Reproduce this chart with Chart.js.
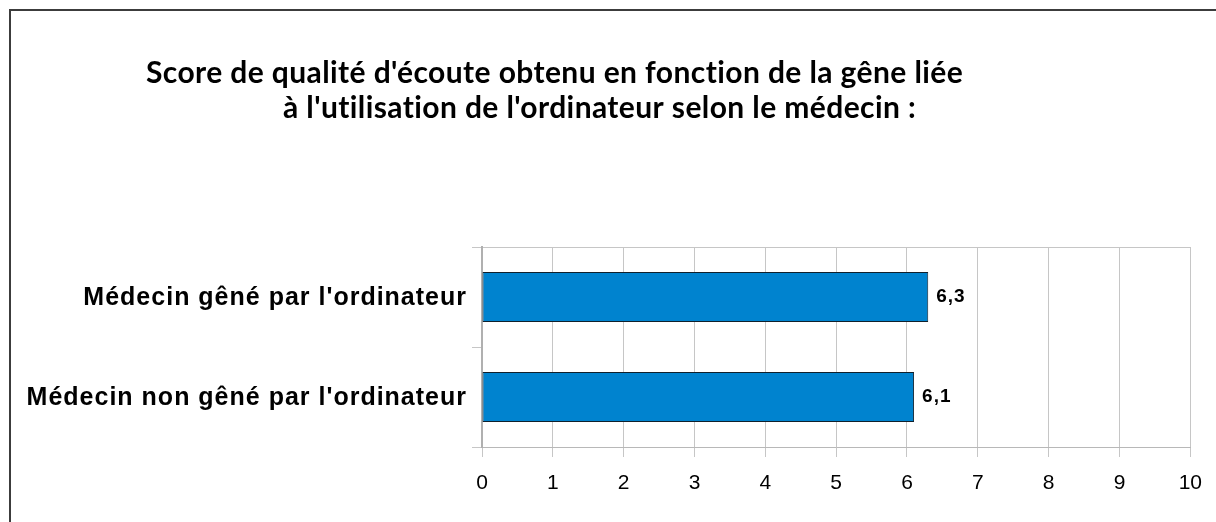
<!DOCTYPE html>
<html>
<head>
<meta charset="utf-8">
<script src="https://cdn.jsdelivr.net/npm/chart.js@4/dist/chart.umd.min.js"></script>
<style>
  html, body { margin: 0; padding: 0; background: #fff; }
  canvas { display: block; }
</style>
</head>
<body>
<canvas id="chart" width="1216" height="522"></canvas>
<script>
const categories = [
  "Médecin gêné par l'ordinateur",
  "Médecin non gêné par l'ordinateur",
];
const scores = [6.3, 6.1];
const titleLines = [
  "Score de qualité d'écoute obtenu en fonction de la gêne liée",
  "à l'utilisation de l'ordinateur selon le médecin :",
];
const xTicks = [0, 1, 2, 3, 4, 5, 6, 7, 8, 9, 10];

const labelFont = "bold 25px 'Liberation Sans', Arial, sans-serif";
const valueFont = "bold 19px 'Liberation Sans', Arial, sans-serif";

// frame, title, category labels and value labels
const decorations = {
  id: "decorations",
  beforeDraw(chart) {
    const ctx = chart.ctx;
    ctx.save();
    ctx.strokeStyle = "#3c3c3c";
    ctx.lineWidth = 2;
    ctx.beginPath();
    ctx.moveTo(10, chart.height);
    ctx.lineTo(10, 10);
    ctx.lineTo(chart.width, 10);
    ctx.stroke();

    ctx.fillStyle = "#000";
    ctx.font = "bold 30px Lato, 'Open Sans', sans-serif";
    ctx.letterSpacing = "0.4px";
    ctx.textBaseline = "alphabetic";
    ctx.textAlign = "left";
    ctx.fillText(titleLines[0], 146, 83);
    ctx.fillText(titleLines[1], 283, 118);
    ctx.restore();
  },
  afterDraw(chart) {
    const ctx = chart.ctx;
    const yScale = chart.scales.y;
    ctx.save();
    ctx.fillStyle = "#000";
    ctx.textBaseline = "middle";

    ctx.font = labelFont;
    ctx.letterSpacing = "1px";
    ctx.textAlign = "right";
    categories.forEach((c, i) => {
      ctx.fillText(c, yScale.left + yScale.width - 15, yScale.getPixelForTick(i) + 1);
    });

    ctx.font = valueFont;
    ctx.letterSpacing = "1px";
    ctx.textAlign = "left";
    chart.getDatasetMeta(0).data.forEach((bar, i) => {
      ctx.fillText(scores[i].toFixed(1).replace(".", ","), bar.x + 8, bar.y);
    });
    ctx.restore();
  },
};

new Chart(document.getElementById("chart"), {
  type: "bar",
  data: {
    labels: categories,
    datasets: [
      {
        data: scores,
        backgroundColor: "#0083cf",
        borderColor: "#10202c",
        borderWidth: 1,
        borderSkipped: false,
        categoryPercentage: 1,
        barPercentage: 0.5,
      },
    ],
  },
  options: {
    indexAxis: "y",
    responsive: false,
    animation: false,
    events: [],
    layout: { padding: { top: 247, right: 25, bottom: 0, left: 0 } },
    plugins: {
      legend: { display: false },
      title: { display: false },
      tooltip: { enabled: false },
    },
    scales: {
      x: {
        min: 0,
        max: 10,
        afterBuildTicks: (scale) => {
          scale.ticks = xTicks.map((v) => ({ value: v }));
        },
        afterFit: (scale) => {
          scale.height = 75;
        },
        ticks: {
          color: "#000",
          padding: 14,
          font: { family: "'Liberation Sans', Arial, sans-serif", size: 21 },
        },
        grid: {
          color: "#c6c6c6",
          lineWidth: 1,
          tickLength: 10,
        },
        border: { color: "#b8b8b8", width: 1 },
      },
      y: {
        afterFit: (scale) => {
          scale.width = 482;
        },
        ticks: { display: false },
        grid: {
          offset: true,
          color: (c) => (c.index === 1 ? "transparent" : "#c6c6c6"),
          tickColor: "#c6c6c6",
          tickLength: 10,
        },
        border: { color: "#b0b0b0", width: 2 },
      },
    },
  },
  plugins: [decorations],
});
</script>
</body>
</html>
